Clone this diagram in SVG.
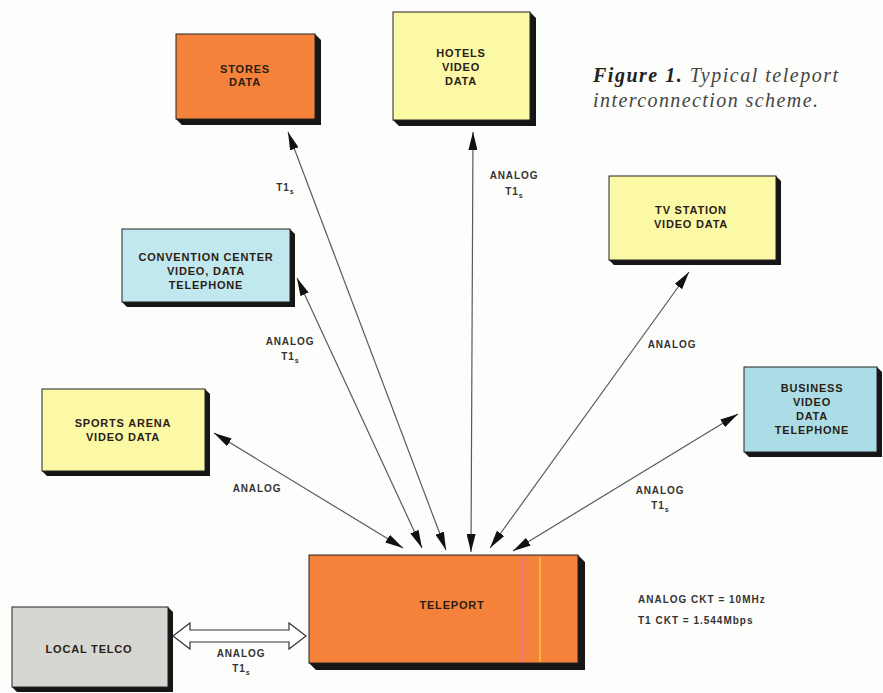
<svg xmlns="http://www.w3.org/2000/svg" width="883" height="693" viewBox="0 0 883 693">
<style>
.bg{fill:#fdfdfb}
.face{stroke:#222;stroke-width:1}
.shadow{fill:#161616}
.orange{fill:#f5823a}
.yellow{fill:#fbf8a6}
.blue{fill:#c2e8ef}
.blue2{fill:#acdde6}
.gray{fill:#d6d6d3}
.lbl{font-family:"Liberation Sans",Arial,sans-serif;font-weight:bold;font-size:11px;letter-spacing:0.8px;fill:#2a1d14;text-anchor:middle}
.clbl{font-family:"Liberation Sans",Arial,sans-serif;font-weight:bold;font-size:10px;letter-spacing:0.9px;fill:#333;text-anchor:middle}
.sub{font-size:7px;letter-spacing:0}
.conn{stroke:#5a5a5a;stroke-width:1.2;fill:none;marker-start:url(#ah);marker-end:url(#ah)}
.cap{font-family:"Liberation Serif","Times New Roman",serif;font-style:italic;font-size:20px;fill:#444}
.legend{font-family:"Liberation Sans",Arial,sans-serif;font-weight:bold;font-size:10px;letter-spacing:1px;fill:#333}
</style>
<defs>
<marker id="ah" viewBox="0 0 18 9" refX="18" refY="4.5" markerWidth="18" markerHeight="9" markerUnits="userSpaceOnUse" orient="auto-start-reverse">
<path d="M0,0 L18,4.5 L0,9 Z" fill="#111"/>
</marker>
</defs>
<rect class="bg" x="0" y="0" width="883" height="693"/>

<g id="connectors">
<line class="conn" x1="214" y1="433" x2="403" y2="548"/>
<line class="conn" x1="297" y1="278" x2="422" y2="548"/>
<line class="conn" x1="288" y1="132" x2="446" y2="550"/>
<line class="conn" x1="473" y1="132" x2="471" y2="552"/>
<line class="conn" x1="689" y1="272" x2="490" y2="548"/>
<line class="conn" x1="738" y1="414" x2="513" y2="551"/>
<polygon points="173,636 190,623 190,630 289,630 289,623 306,636 289,649 289,642 190,642 190,649" fill="#fff" stroke="#333" stroke-width="1.2"/>
<text class="clbl" x="285" y="191">T1<tspan class="sub" dy="3">s</tspan></text>
<text class="clbl" x="514" y="179">ANALOG</text>
<text class="clbl" x="514" y="195">T1<tspan class="sub" dy="3">s</tspan></text>
<text class="clbl" x="290" y="345">ANALOG</text>
<text class="clbl" x="290" y="360">T1<tspan class="sub" dy="3">s</tspan></text>
<text class="clbl" x="257" y="492">ANALOG</text>
<text class="clbl" x="672" y="348">ANALOG</text>
<text class="clbl" x="660" y="494">ANALOG</text>
<text class="clbl" x="660" y="509">T1<tspan class="sub" dy="3">s</tspan></text>
<text class="clbl" x="241" y="657">ANALOG</text>
<text class="clbl" x="241" y="672">T1<tspan class="sub" dy="3">s</tspan></text>
</g>

<g id="stores">
<polygon class="shadow" points="315,34 321,40 321,125 182,125 176,119 315,119"/>
<rect class="face orange" x="176" y="34" width="139" height="85"/>
<text class="lbl" x="245" y="73">STORES</text>
<text class="lbl" x="245" y="86">DATA</text>
</g>

<g id="hotels">
<polygon class="shadow" points="530,12 536,18 536,126 399,126 393,120 530,120"/>
<rect class="face yellow" x="393" y="12" width="137" height="108"/>
<text class="lbl" x="461" y="57">HOTELS</text>
<text class="lbl" x="461" y="71">VIDEO</text>
<text class="lbl" x="461" y="85">DATA</text>
</g>

<g id="convention">
<polygon class="shadow" points="290,229 295,234 295,307 127,307 122,302 290,302"/>
<rect class="face blue" x="122" y="229" width="168" height="73"/>
<text class="lbl" x="206" y="261">CONVENTION CENTER</text>
<text class="lbl" x="206" y="275">VIDEO, DATA</text>
<text class="lbl" x="206" y="289">TELEPHONE</text>
</g>

<g id="sports">
<polygon class="shadow" points="205,389 210,394 210,476 47,476 42,471 205,471"/>
<rect class="face yellow" x="42" y="389" width="163" height="82"/>
<text class="lbl" x="123" y="427">SPORTS ARENA</text>
<text class="lbl" x="123" y="441">VIDEO DATA</text>
</g>

<g id="tvstation">
<polygon class="shadow" points="776,176 781,181 781,265 614,265 609,260 776,260"/>
<rect class="face yellow" x="609" y="176" width="167" height="84"/>
<text class="lbl" x="691" y="214">TV STATION</text>
<text class="lbl" x="691" y="228">VIDEO DATA</text>
</g>

<g id="business">
<polygon class="shadow" points="877,367 882,372 882,457 749,457 744,452 877,452"/>
<rect class="face blue2" x="744" y="367" width="133" height="85"/>
<text class="lbl" x="812" y="392">BUSINESS</text>
<text class="lbl" x="812" y="406">VIDEO</text>
<text class="lbl" x="812" y="420">DATA</text>
<text class="lbl" x="812" y="434">TELEPHONE</text>
</g>

<g id="teleport">
<polygon class="shadow" points="578,555 585,562 585,670 316,670 309,663 578,663"/>
<rect class="face orange" x="309" y="555" width="269" height="108"/>
<line x1="523" y1="557" x2="523" y2="662" stroke="#e8709c" stroke-width="1.5"/>
<line x1="540" y1="557" x2="540" y2="662" stroke="#f6c23c" stroke-width="1.5"/>
<text class="lbl" x="452" y="609">TELEPORT</text>
</g>

<g id="localtelco">
<polygon class="shadow" points="168,607 173,612 173,692 17,692 12,687 168,687"/>
<rect class="face gray" x="12" y="607" width="156" height="80"/>
<text class="lbl" x="89" y="653">LOCAL TELCO</text>
</g>

<g id="legend">
<text class="legend" x="638" y="603">ANALOG CKT = 10MHz</text>
<text class="legend" x="638" y="624">T1 CKT = 1.544Mbps</text>
</g>

<g id="caption">
<text class="cap" x="593" y="82" textLength="245" lengthAdjust="spacing"><tspan font-weight="bold" fill="#222">Figure 1.</tspan> Typical teleport</text>
<text class="cap" x="593" y="107" textLength="225" lengthAdjust="spacing">interconnection scheme.</text>
</g>
</svg>
